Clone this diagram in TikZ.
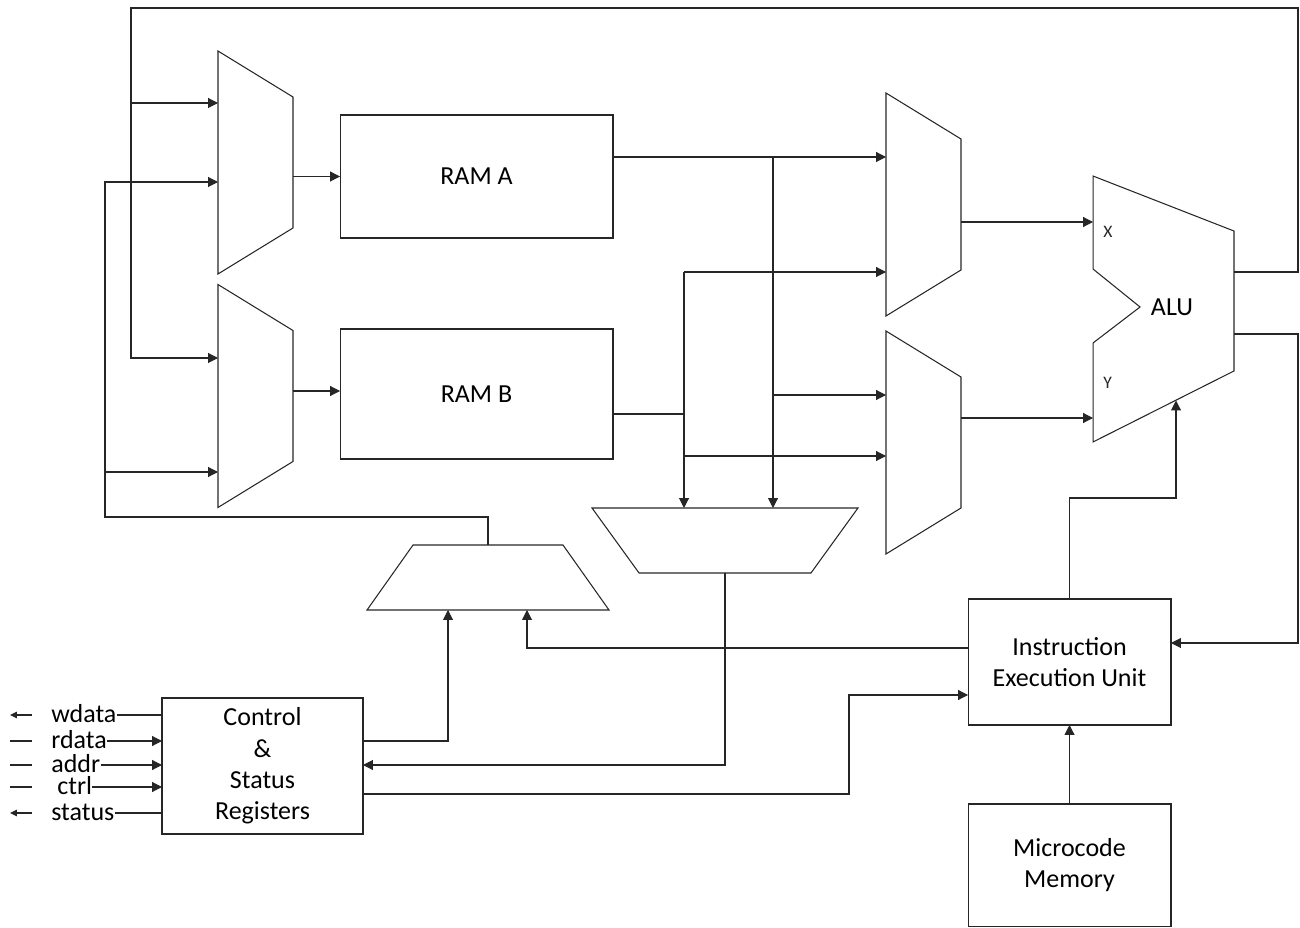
\documentclass[tikz,border=0pt]{standalone}
\usepackage{fontspec}
\setmainfont{Carlito}
\usetikzlibrary{arrows.meta,positioning,calc}
\definecolor{ink}{HTML}{262626}

\begin{document}
\begin{tikzpicture}[
  x=0.02cm, y=-0.02cm,
  font=\fontsize{14.8}{17.8}\selectfont,
  block/.style={draw=ink, line width=0.6pt, align=center, inner sep=0pt, outer sep=0pt},
  muxframe/.style={inner sep=0pt, outer sep=0pt},
  muxline/.style={draw=ink, line width=0.6pt, line join=miter},
  tiny/.style={font=\fontsize{10}{12}\selectfont, text=ink, anchor=west, inner sep=0pt},
  pin/.style={anchor=base west, inner sep=0pt},
  wire/.style={draw=ink, line width=0.6pt},
  arrow/.style={wire, -{Triangle[length=2mm, width=2mm]}},
  smallarrow/.style={wire, -{Triangle[length=1.4mm, width=1.3mm]}}
]
\useasboundingbox (0,0) rectangle (1300,928);

% ------------------------------------------------------------------
% Multiplexers and ALU
% ------------------------------------------------------------------
\foreach \m/\cx/\cy in {muxA/255.5/162.5, muxB/255.5/396, muxE/923.5/204.5, muxF/923.5/442.5} {
  \node[muxframe, minimum width=1.5cm, minimum height=4.46cm] (\m) at (\cx,\cy) {};
  \draw[muxline] (\m.north west) -- ($(\m.north east)+(0,46)$) -- ($(\m.south east)+(0,-46)$) -- (\m.south west) -- cycle;
}

\node[muxframe, minimum width=4.84cm, minimum height=1.3cm] (selC) at (488,577.5) {};
\draw[muxline] ($(selC.north west)+(46,0)$) -- ($(selC.north east)+(-46,0)$) -- (selC.south east) -- (selC.south west) -- cycle;
\node[muxframe, minimum width=5.32cm, minimum height=1.3cm] (selD) at (725,540.5) {};
\draw[muxline] (selD.north west) -- (selD.north east) -- ($(selD.south east)+(-47,0)$) -- ($(selD.south west)+(47,0)$) -- cycle;

\node[muxframe, minimum width=2.82cm, minimum height=5.32cm] (alu) at (1163.5,309) {};
\draw[muxline] (alu.north west) -- ($(alu.north east)+(0,55)$) -- ($(alu.south east)+(0,-71)$) -- (alu.south west)
  -- ($(alu.south west)+(0,-99)$) -- ($(alu.west)+(47,-2)$) -- ($(alu.north west)+(0,93)$) -- cycle;
\node (alutext) at (1172,307) {ALU};
\node[tiny] (portX) at (1103,232) {X};
\node[tiny] (portY) at (1103,383) {Y};

% ------------------------------------------------------------------
% Blocks
% ------------------------------------------------------------------
\node[block, minimum width=5.46cm, minimum height=2.46cm] (ramA) at (476.5,176.5) {RAM A};
\node[block, minimum width=5.46cm, minimum height=2.6cm] (ramB) at (476.5,394) {RAM B};
\node[block, minimum width=4.02cm, minimum height=2.72cm] (csr) at (262.5,766) {Control\\\&\\Status\\Registers};
\node[block, minimum width=4.06cm, minimum height=2.52cm] (ieu) at (1069.5,662) {Instruction\\Execution Unit};
\node[block, minimum width=4.06cm, minimum height=2.45cm] (ucode) at (1069.5,865.25) {Microcode\\Memory};

\coordinate (tapA) at (773,157);
\coordinate (tapB) at (684,414);
\coordinate (busL) at (131,8);
\coordinate (busR) at (1298,8);
\coordinate (busM) at (105,517);
\coordinate (jog) at (849,695);

% ------------------------------------------------------------------
% Data paths
% ------------------------------------------------------------------
\draw[arrow] (muxA.east |- ramA.west) -- (ramA.west);
\draw[arrow] (muxB.east |- 0,391) -- (ramB.west |- 0,391);

\draw[arrow] (ramA.east |- tapA) -- (muxE.west |- tapA);
\draw[arrow] (tapA) -- (tapA |- selD.north);
\draw[arrow] (tapA |- 0,395) -- (muxF.west |- 0,395);
\draw[wire] (ramB.east |- tapB) -- (tapB);
\draw[arrow] (tapB |- 0,272) -- (tapB |- selD.north);
\draw[arrow] (tapB |- 0,272) -- (muxE.west |- 0,272);
\draw[arrow] (tapB |- 0,456) -- (muxF.west |- 0,456);

\draw[arrow] (muxE.east |- 0,222) -- (alu.west |- 0,222);
\draw[arrow] (muxF.east |- 0,418) -- (alu.west |- 0,418);

% ALU results back to the RAM inputs
\draw[arrow] (alu.east |- 0,272) -| (busR) -- (busL) |- (muxB.west |- 0,358);
\draw[arrow] (busL |- 0,103) -- (muxA.west |- 0,103);
\draw[arrow] (alu.east |- 0,334) -| (busR |- 0,643) -- (ieu.east |- 0,643);

\draw[arrow] (selC.north) |- (busM) |- (muxA.west |- 0,182);
\draw[arrow] (busM |- 0,472) -- (muxB.west |- 0,472);

% ------------------------------------------------------------------
% Control paths
% ------------------------------------------------------------------
\draw[arrow] (csr.east |- 0,741) -| ($(selC.south)+(-40,0)$);
\draw[arrow] (ieu.west |- 0,648) -| ($(selC.south)+(39,0)$);
\draw[arrow] (selD.south) |- (csr.east |- 0,765);
\draw[arrow] (csr.east |- 0,794) -| (jog) -- (ieu.west |- jog);
\draw[arrow] (ieu.north) |- (1176,498) -- (1176,400.5);
\draw[arrow] (ucode.north) -- (ieu.south);

% Host interface
\foreach \p/\px/\py in {wdata/51/715, rdata/51/741, addr/51/765, ctrl/57/787, status/51/813}
  \node[pin] (\p) at (\px,\py+7.5) {\p};

\draw[wire] (wdata.east |- 0,715) -- (csr.west |- 0,715);
\draw[arrow] (rdata.east |- 0,741) -- (csr.west |- 0,741);
\draw[arrow] (addr.east |- 0,765) -- (csr.west |- 0,765);
\draw[arrow] (ctrl.east |- 0,787) -- (csr.west |- 0,787);
\draw[wire] (status.east |- 0,813) -- (csr.west |- 0,813);

\draw[smallarrow] (32,715) -- (10,715);
\draw[wire] (10,741) -- (32,741);
\draw[wire] (10,765) -- (32,765);
\draw[wire] (10,787) -- (32,787);
\draw[smallarrow] (32,813) -- (10,813);

\end{tikzpicture}
\end{document}
